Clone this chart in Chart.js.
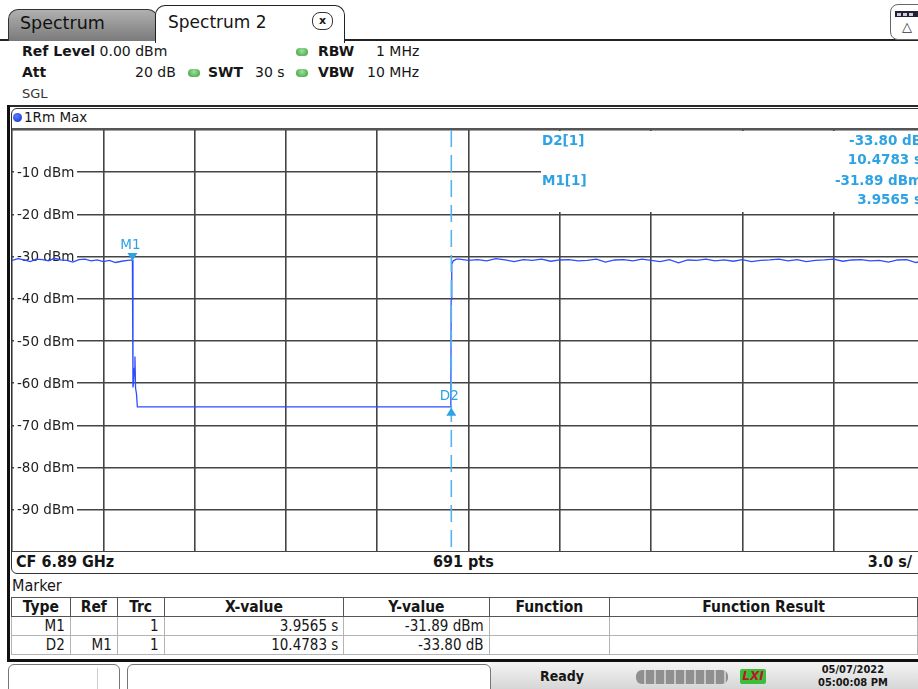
<!DOCTYPE html>
<html>
<head>
<meta charset="utf-8">
<script src="https://cdn.jsdelivr.net/npm/chart.js@4.4.1/dist/chart.umd.min.js"></script>
<style>
  html, body { margin: 0; padding: 0; background: #fff; }
  body { width: 918px; height: 689px; position: relative; overflow: hidden;
         font-family: "DejaVu Sans", Verdana, sans-serif; color: #161616; }
  .a { position: absolute; white-space: nowrap; }
  .b { font-weight: bold; }
  .cond { font-family: "DejaVu Sans Condensed", "DejaVu Sans", sans-serif; font-stretch: condensed; }
  .dot { position: absolute; width: 12px; height: 8px; border-radius: 5px;
         background: radial-gradient(circle at 50% 35%, #9be39b, #3c9c3c); }
  #tab1 { left: 8px; top: 9px; width: 148px; height: 31px; border: 1.5px solid #333; border-bottom: none;
          border-radius: 10px 10px 0 0; background: linear-gradient(#b0b0b0, #7a7a7a); }
  #tab2 { left: 155px; top: 5px; width: 188px; height: 37px; border: 1.5px solid #222; border-bottom: none;
          border-radius: 10px 10px 0 0; background: #fff; z-index: 2; }
  #mk { position: absolute; left: 11px; top: 597px; border-collapse: collapse; table-layout: fixed;
        font-size: 15px; }
  #mk td, #mk th { height: 18px; line-height: 18px; padding: 0 5px; border: 1px solid #b4b4b4;
                   overflow: hidden; white-space: nowrap; }
  #mk th { font-weight: bold; border: 1.5px solid #555; text-align: center; font-size: 15.5px; }
  #mk td { text-align: right; }
</style>
</head>
<body>

<!-- pestañas -->
<div class="a" style="left:0;top:39px;width:918px;height:2px;background:#222"></div>
<div class="a" id="tab1"></div>
<div class="a" style="left:20px;top:13px;font-size:17.5px;color:#111">Spectrum</div>
<div class="a" id="tab2"></div>
<div class="a" style="left:168px;top:12px;font-size:17px;z-index:3">Spectrum 2</div>
<div class="a" style="left:312px;top:12px;width:19px;height:16px;border:1.4px solid #333;border-radius:8px;
     z-index:3;font-size:11px;font-weight:bold;text-align:center;line-height:15px">x</div>
<div class="a" style="left:890px;top:4px;width:34px;height:34px;border:1.4px solid #666;border-radius:8px;background:#fff">
  <div class="a" style="left:4px;top:6px;width:24px;height:6px;background:#223"></div>
  <div class="a" style="left:6px;top:8px;width:4px;height:3px;background:#ccd"></div>
  <div class="a" style="left:12px;top:8px;width:4px;height:3px;background:#ccd"></div>
  <div class="a" style="left:18px;top:8px;width:4px;height:3px;background:#ccd"></div>
  <div class="a" style="left:11px;top:14px;font-size:13px;color:#334">&#9651;</div>
</div>

<!-- cabecera de ajustes -->
<div class="a" style="left:22px;top:43px;font-size:14px"><span class="b">Ref Level</span>&nbsp;0.00 dBm</div>
<div class="dot" style="left:296px;top:48px"></div>
<div class="a b" style="left:318px;top:43px;font-size:14px">RBW</div>
<div class="a" style="left:376px;top:43px;font-size:14px">1 MHz</div>
<div class="a b" style="left:22px;top:64px;font-size:14px">Att</div>
<div class="a" style="left:135px;top:64px;font-size:14px">20 dB</div>
<div class="dot" style="left:188px;top:69px"></div>
<div class="a b" style="left:208px;top:64px;font-size:14px">SWT</div>
<div class="a" style="left:255px;top:64px;font-size:14px">30 s</div>
<div class="dot" style="left:296px;top:69px"></div>
<div class="a b" style="left:318px;top:64px;font-size:14px">VBW</div>
<div class="a" style="left:367px;top:64px;font-size:14px">10 MHz</div>
<div class="a" style="left:22px;top:86px;font-size:13px;color:#333">SGL</div>

<!-- marco del diagrama -->
<div class="a" style="left:7px;top:105px;width:920px;height:2px;background:#2a2a2a"></div>
<div class="a" style="left:7px;top:105px;width:3px;height:557px;background:#111"></div>
<div class="a" style="left:11px;top:108px;width:915px;height:464px;border:1.3px solid #333;border-radius:6px"></div>
<div class="a" style="left:12px;top:128px;width:914px;height:1.5px;background:#555"></div>
<div class="a" style="left:13px;top:113px;width:9px;height:9px;border-radius:50%;background:radial-gradient(circle at 40% 35%,#5a7cff,#1030c8)"></div>
<div class="a" style="left:24px;top:109px;font-size:13.5px">1Rm Max</div>

<div class="a" style="left:12px;top:130px"><canvas id="grafico" width="913" height="422"></canvas></div>

<div class="a cond b" style="left:16px;top:552px;font-size:16px">CF 6.89 GHz</div>
<div class="a cond b" style="left:433px;top:552px;font-size:16px">691 pts</div>
<div class="a cond b" style="right:6px;top:552px;font-size:16px">3.0 s/</div>

<!-- tabla de marcadores -->
<div class="a cond" style="left:12px;top:576px;font-size:16px">Marker</div>
<table id="mk" class="cond"></table>
<div class="a" style="left:7px;top:659px;width:920px;height:3px;background:#111"></div>

<!-- barra de estado -->
<div class="a" style="left:490px;top:662px;width:430px;height:27px;background:linear-gradient(#f4f4f4,#d6d6d6)"></div>
<div class="a" style="left:8px;top:664px;width:110px;height:30px;border:1.3px solid #777;border-radius:6px"></div>
<div class="a" style="left:97px;top:668px;width:1px;height:21px;background:#ccc"></div>
<div class="a" style="left:127px;top:664px;width:362px;height:30px;border:1.3px solid #777;border-radius:6px"></div>
<div class="a b cond" style="left:540px;top:668px;font-size:14px">Ready</div>
<div class="a" style="left:636px;top:670px;width:92px;height:14px;border-radius:6px;
     background:repeating-linear-gradient(90deg,#8f8f8f 0 8px,#c8c8c8 8px 10px)"></div>
<div class="a" style="left:740px;top:669px;width:26px;height:15px;background:#3bbf3b;border-radius:2px;
     color:#c0142a;font-weight:bold;font-style:italic;font-size:12px;text-align:center;line-height:15px">LXI</div>
<div class="a b cond" style="left:818px;top:663px;font-size:11px;line-height:13px;text-align:center">05/07/2022<br>05:00:08 PM</div>

<script>
// escala de tiempo (s) y nivel (dBm)
const timeMin = 0, timeMax = 30, timeStep = 3;
const levelMin = -100, levelMax = 0, levelStep = 10;
const levelLabels = [-10, -20, -30, -40, -50, -60, -70, -80, -90];

// traza 1, por tramos
const tramoAltoT = [0, 0.2, 0.4, 0.6, 0.8, 1.0, 1.2, 1.4, 1.6, 1.8, 2.0, 2.2, 2.4, 2.6, 2.8, 3.0, 3.2, 3.4, 3.6, 3.8, 3.9565];
const tramoAltoV = [-30.9, -30.5, -30.8, -31.2, -30.6, -30.7, -31.0, -30.4, -30.8, -30.9, -31.3, -30.7, -30.6, -31.0, -30.8, -31.2, -30.9, -31.4, -31.1, -30.9, -30.8];
const caidaT = [3.975, 3.99, 4.02, 4.04, 4.06, 4.09, 4.12, 14.42];
const caidaV = [-61.0, -60.2, -56.5, -53.7, -61.2, -62.5, -65.6, -65.6];
const subidaT = [14.43, 14.45, 14.5, 14.6];
const subidaV = [-40.0, -31.8, -31.0, -30.6];
const tramoFinalT = [14.7, 15.0, 15.3, 15.6, 15.9, 16.2, 16.5, 16.8, 17.1, 17.4, 17.7, 18.0, 18.3, 18.6, 18.9, 19.2, 19.5, 19.8,
  20.1, 20.4, 20.7, 21.0, 21.3, 21.6, 21.9, 22.2, 22.5, 22.8, 23.1, 23.4, 23.7, 24.0, 24.3, 24.6, 24.9, 25.2, 25.5, 25.8,
  26.1, 26.4, 26.7, 27.0, 27.3, 27.6, 27.9, 28.2, 28.5, 28.8, 29.1, 29.4, 29.7, 30.0];
const tramoFinalV = [-30.6, -30.9, -30.7, -31.0, -30.5, -30.8, -31.2, -30.7, -30.9, -30.6,
  -31.1, -30.8, -30.7, -31.0, -30.9, -30.6, -31.3, -30.8, -30.7, -31.0,
  -30.6, -30.9, -31.2, -30.7, -31.5, -30.8, -30.9, -30.6, -31.0, -30.8,
  -31.1, -30.7, -31.2, -30.9, -30.8, -30.6, -31.0, -30.7, -31.2, -30.9,
  -30.8, -30.6, -31.1, -30.8, -30.7, -31.0, -30.9, -31.3, -30.8, -30.7,
  -31.4, -31.0];

// marcadores
const markerNames = ['M1', 'D2'];
const markerTimes = [3.9565, 14.4348];
const markerLevels = [-30.8, -65.6];
const markerRefs = ['', 'M1'];
const markerTrc = [1, 1];
const markerXText = ['3.9565 s', '10.4783 s'];
const markerYText = ['-31.89 dBm', '-33.80 dB'];
const readoutLabels = ['D2[1]', 'M1[1]'];
const readoutValues = [['-33.80 dB', '10.4783 s'], ['-31.89 dBm', '3.9565 s']];
const tableHeads = ['Type', 'Ref', 'Trc', 'X-value', 'Y-value', 'Function', 'Function Result'];
const tableWidths = [59, 47, 47, 181, 146, 121, 310];

const AZUL_MARCA = '#2ea3e3';

function puntos(ts, vs) {
    return ts.map((t, i) => ({ x: t, y: vs[i] }));
}

const traza = [].concat(
    puntos(tramoAltoT, tramoAltoV),
    puntos(caidaT, caidaV),
    puntos(subidaT, subidaV),
    puntos(tramoFinalT, tramoFinalV)
);

// tabla
const tabla = document.getElementById('mk');
let html = '<colgroup>' + tableWidths.map(w => `<col style="width:${w}px">`).join('') + '</colgroup>';
html += '<tr>' + tableHeads.map(h => `<th>${h}</th>`).join('') + '</tr>';
markerNames.forEach((n, i) => {
    html += `<tr><td>${n}</td><td>${markerRefs[i]}</td><td>${markerTrc[i]}</td><td>${markerXText[i]}</td>` +
            `<td>${markerYText[i]}</td><td></td><td></td></tr>`;
});
tabla.innerHTML = html;

// etiquetas de nivel, cuadro de lecturas, marcadores
const decoracion = {
    id: 'decoracion',
    beforeDatasetsDraw(chart) {
        const { ctx, chartArea: a, scales: { y } } = chart;
        ctx.save();
        ctx.fillStyle = '#fff';
        ctx.fillRect(529, a.top + 1, a.right - 529, 81);

        ctx.font = '13.5px "DejaVu Sans"';
        ctx.textBaseline = 'middle';
        levelLabels.forEach(v => {
            const py = y.getPixelForValue(v);
            ctx.fillStyle = '#fff';
            ctx.fillRect(a.left + 2, py - 8, 63, 16);
            ctx.fillStyle = '#222';
            ctx.fillText(v + ' dBm', a.left + 5, py + 1);
        });

        ctx.font = 'bold 13.5px "DejaVu Sans"';
        ctx.fillStyle = AZUL_MARCA;
        readoutLabels.forEach((lab, i) => {
            const y0 = a.top + 11 + i * 40;
            ctx.textAlign = 'left';
            ctx.fillText(lab, 530, y0);
            ctx.textAlign = 'right';
            ctx.fillText(readoutValues[i][0], 910, y0);
            ctx.fillText(readoutValues[i][1], 910, y0 + 19);
        });
        ctx.restore();
    },
    afterDatasetsDraw(chart) {
        const { ctx, chartArea: a, scales: { x, y } } = chart;
        ctx.save();
        // línea discontinua del marcador delta
        const xd = x.getPixelForValue(markerTimes[1]);
        ctx.strokeStyle = '#55b4ee';
        ctx.lineWidth = 1.6;
        ctx.setLineDash([17, 8]);
        ctx.beginPath();
        ctx.moveTo(xd, a.top);
        ctx.lineTo(xd, a.bottom);
        ctx.stroke();
        ctx.setLineDash([]);

        ctx.fillStyle = AZUL_MARCA;
        ctx.font = '13.5px "DejaVu Sans"';
        ctx.textAlign = 'center';
        ctx.textBaseline = 'middle';
        markerNames.forEach((n, i) => {
            const px = x.getPixelForValue(markerTimes[i]);
            const py = y.getPixelForValue(markerLevels[i]);
            ctx.beginPath();
            if (i === 0) {
                ctx.moveTo(px - 5, py - 7); ctx.lineTo(px + 5, py - 7); ctx.lineTo(px, py + 1);
                ctx.fill();
                ctx.fillText(n, px - 2, py - 14);
            } else {
                ctx.moveTo(px - 5, py + 9); ctx.lineTo(px + 5, py + 9); ctx.lineTo(px, py + 1);
                ctx.fill();
                ctx.fillText(n, px - 2, py - 10);
            }
        });
        ctx.restore();
    }
};

const miGrafico = new Chart(document.getElementById('grafico').getContext('2d'), {
    type: 'line',
    data: {
        datasets: [{
            label: '1Rm Max',
            data: traza,
            borderColor: '#2c4cff',
            borderWidth: 1.3,
            pointRadius: 0,
            tension: 0,
            fill: false
        }]
    },
    options: {
        responsive: false,
        animation: false,
        events: [],
        layout: { padding: 0 },
        scales: {
            x: {
                type: 'linear', min: timeMin, max: timeMax,
                ticks: { display: false, stepSize: timeStep },
                grid: { color: '#444', lineWidth: 1.6, drawTicks: false },
                border: { display: false },
                afterFit: s => { s.height = 0; }
            },
            y: {
                min: levelMin, max: levelMax,
                ticks: { display: false, stepSize: levelStep },
                grid: { color: '#444', lineWidth: 1.6, drawTicks: false },
                border: { display: false },
                afterFit: s => { s.width = 0; }
            }
        },
        plugins: {
            legend: { display: false },
            tooltip: { enabled: false }
        }
    },
    plugins: [decoracion]
});
</script>
</body>
</html>
